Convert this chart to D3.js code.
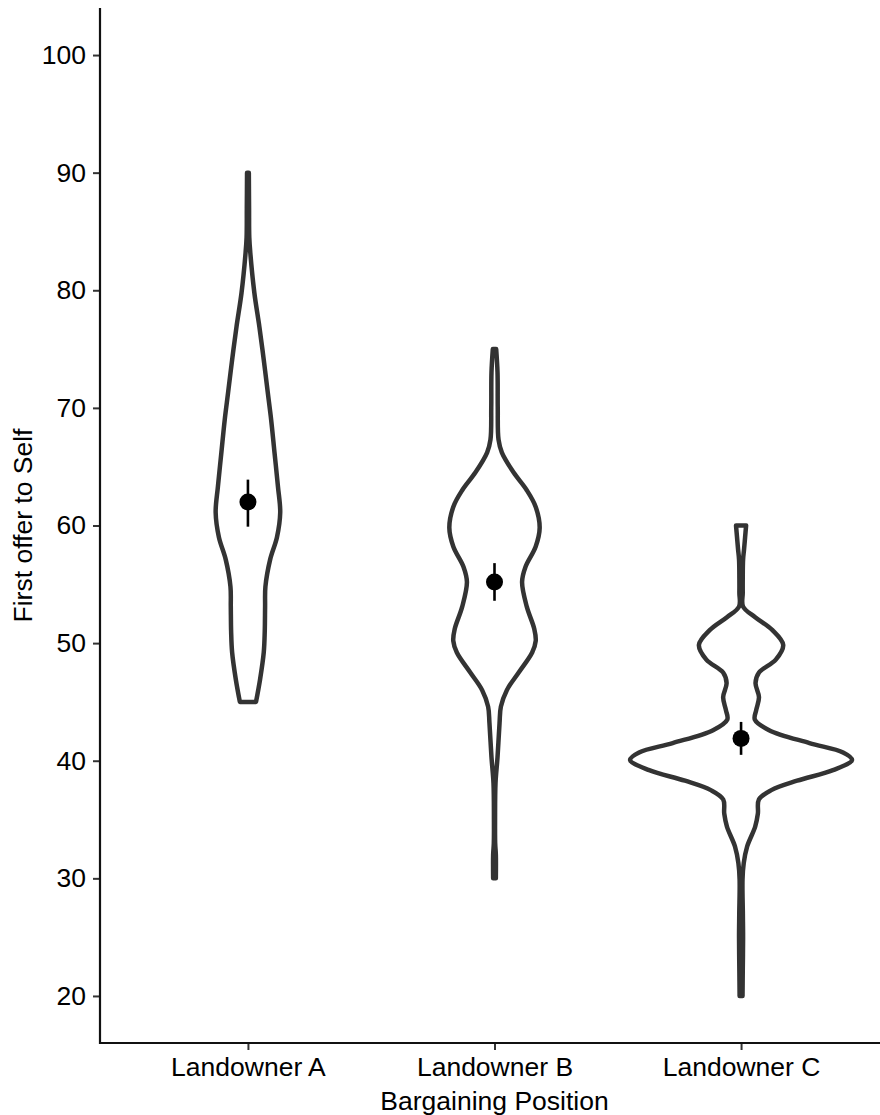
<!DOCTYPE html>
<html>
<head>
<meta charset="utf-8">
<script src="https://cdn.jsdelivr.net/npm/d3@7"></script>
<style>
  html, body { margin: 0; padding: 0; background: #fff; }
  svg { display: block; }
  text { font-family: "Liberation Sans", Arial, sans-serif; }
</style>
</head>
<body>
<svg id="chart" width="880" height="1115"></svg>
<script>
// Bargaining positions shown along the x axis
const categories = ["Landowner A", "Landowner B", "Landowner C"];

// Violin outlines: [offer value, relative density]
const densityA = [[45, 7.2], [46.9, 10.8], [49.2, 14.1], [51, 15], [53.1, 15.3], [54.8, 15.6],
  [57.1, 19.8], [59, 25.9], [61.1, 28.8], [63.3, 26.8], [66.2, 23.7], [69, 20.7], [71.3, 17.7],
  [74.1, 14.1], [76.9, 10.2], [79.8, 5.7], [83.2, 2.1], [84.5, 1.2], [87, 1.0], [90, 0.8]];
const densityB = [[30, 1.2], [32, 1.2], [33, 0.6], [35, 0.5], [38.1, 0.9], [40.3, 2.7], [43.2, 4.5],
  [44.6, 5.7], [46, 11], [47.5, 21.6], [49.2, 33.6], [50.2, 36.8], [51.2, 35.5], [53.1, 28.8],
  [55.2, 24.6], [56.5, 27.7], [58.2, 36.7], [59.8, 40.3], [61.6, 36.7], [63, 28.8], [64.5, 17.1],
  [66.2, 6.6], [67.3, 3.6], [70, 2.9], [73, 2.7], [75, 1.5]];
const densityC = [[20, 1.3], [22, 1.5], [25, 1.8], [27, 1.6], [29.9, 1.3], [31.3, 2.4], [32.7, 5.4],
  [34.4, 12.6], [35.5, 15], [36.7, 15.9], [37.5, 27], [38.3, 50], [39.2, 82], [40.07, 99],
  [40.7, 91], [41.5, 61], [42.6, 25], [43.5, 12.3], [44.3, 13.5], [45.4, 16], [46.6, 12.9],
  [47.5, 16], [48.6, 31], [49.85, 37.6], [51.1, 28], [52.2, 12.6], [53.1, 1.8], [54.3, 1.5],
  [55.5, 1.5], [57.1, 1.8], [58, 2.7], [59, 3.6], [60, 4.5]];

// Group means with their error-bar limits
const means = [62.0, 55.2, 41.9];
const lowers = [59.9, 53.6, 40.5];
const uppers = [63.9, 56.8, 43.3];

// Y-axis tick values
const yTicks = [20, 30, 40, 50, 60, 70, 80, 90, 100];

const densities = [densityA, densityB, densityC];

const svg = d3.select("#chart");
const plotLeft = 100, plotRight = 889, plotTop = 8, plotBottom = 1043;
const fontSize = 26.5;

const x = d3.scalePoint().domain(categories).range([plotLeft, plotRight]).padding(0.6);
const y = d3.scaleLinear().domain([16, 104]).range([plotBottom, plotTop]);
const maxDensity = d3.max(densities, d => d3.max(d, p => p[1]));
const w = d3.scaleLinear().domain([0, maxDensity]).range([0, x.step() * 0.45]);

// Violins
const violins = svg.append("g");
categories.forEach((cat, i) => {
  const cx = x(cat);
  const area = d3.area()
    .y(d => y(d[0]))
    .x0(d => cx - w(d[1]))
    .x1(d => cx + w(d[1]))
    .curve(d3.curveCatmullRom.alpha(0.5));
  violins.append("path")
    .attr("d", area(densities[i]))
    .attr("fill", "#fff")
    .attr("stroke", "#333333")
    .attr("stroke-width", 4.5)
    .attr("stroke-linejoin", "round");
});

// Mean points with error bars
const summary = svg.append("g");
categories.forEach((cat, i) => {
  summary.append("line")
    .attr("x1", x(cat)).attr("x2", x(cat))
    .attr("y1", y(lowers[i])).attr("y2", y(uppers[i]))
    .attr("stroke", "#000").attr("stroke-width", 2.6);
  summary.append("circle")
    .attr("cx", x(cat)).attr("cy", y(means[i]))
    .attr("r", 8.5)
    .attr("fill", "#000");
});

// Axes
const yAxis = svg.append("g")
  .attr("transform", `translate(${plotLeft},0)`)
  .call(d3.axisLeft(y).tickValues(yTicks).tickSize(7).tickPadding(7));
const xAxis = svg.append("g")
  .attr("transform", `translate(0,${plotBottom})`)
  .call(d3.axisBottom(x).tickSize(7).tickPadding(7));

[yAxis, xAxis].forEach(g => {
  g.select(".domain").remove();
  g.selectAll(".tick line").attr("stroke", "#333333").attr("stroke-width", 2);
  g.selectAll(".tick text").attr("fill", "#000").attr("font-size", fontSize)
    .attr("font-family", "'Liberation Sans', Arial, sans-serif");
});

// Axis lines
svg.append("line")
  .attr("x1", plotLeft).attr("x2", plotLeft).attr("y1", plotTop).attr("y2", plotBottom + 1)
  .attr("stroke", "#111").attr("stroke-width", 2.2);
svg.append("line")
  .attr("x1", plotLeft - 1).attr("x2", 880).attr("y1", plotBottom).attr("y2", plotBottom)
  .attr("stroke", "#111").attr("stroke-width", 2.2);

// Axis titles
svg.append("text")
  .attr("x", (plotLeft + plotRight) / 2).attr("y", 1110)
  .attr("text-anchor", "middle")
  .attr("font-size", fontSize).attr("fill", "#000")
  .text("Bargaining Position");
svg.append("text")
  .attr("transform", `translate(32,${(plotTop + plotBottom) / 2}) rotate(-90)`)
  .attr("text-anchor", "middle")
  .attr("font-size", fontSize).attr("fill", "#000")
  .text("First offer to Self");
</script>
</body>
</html>
